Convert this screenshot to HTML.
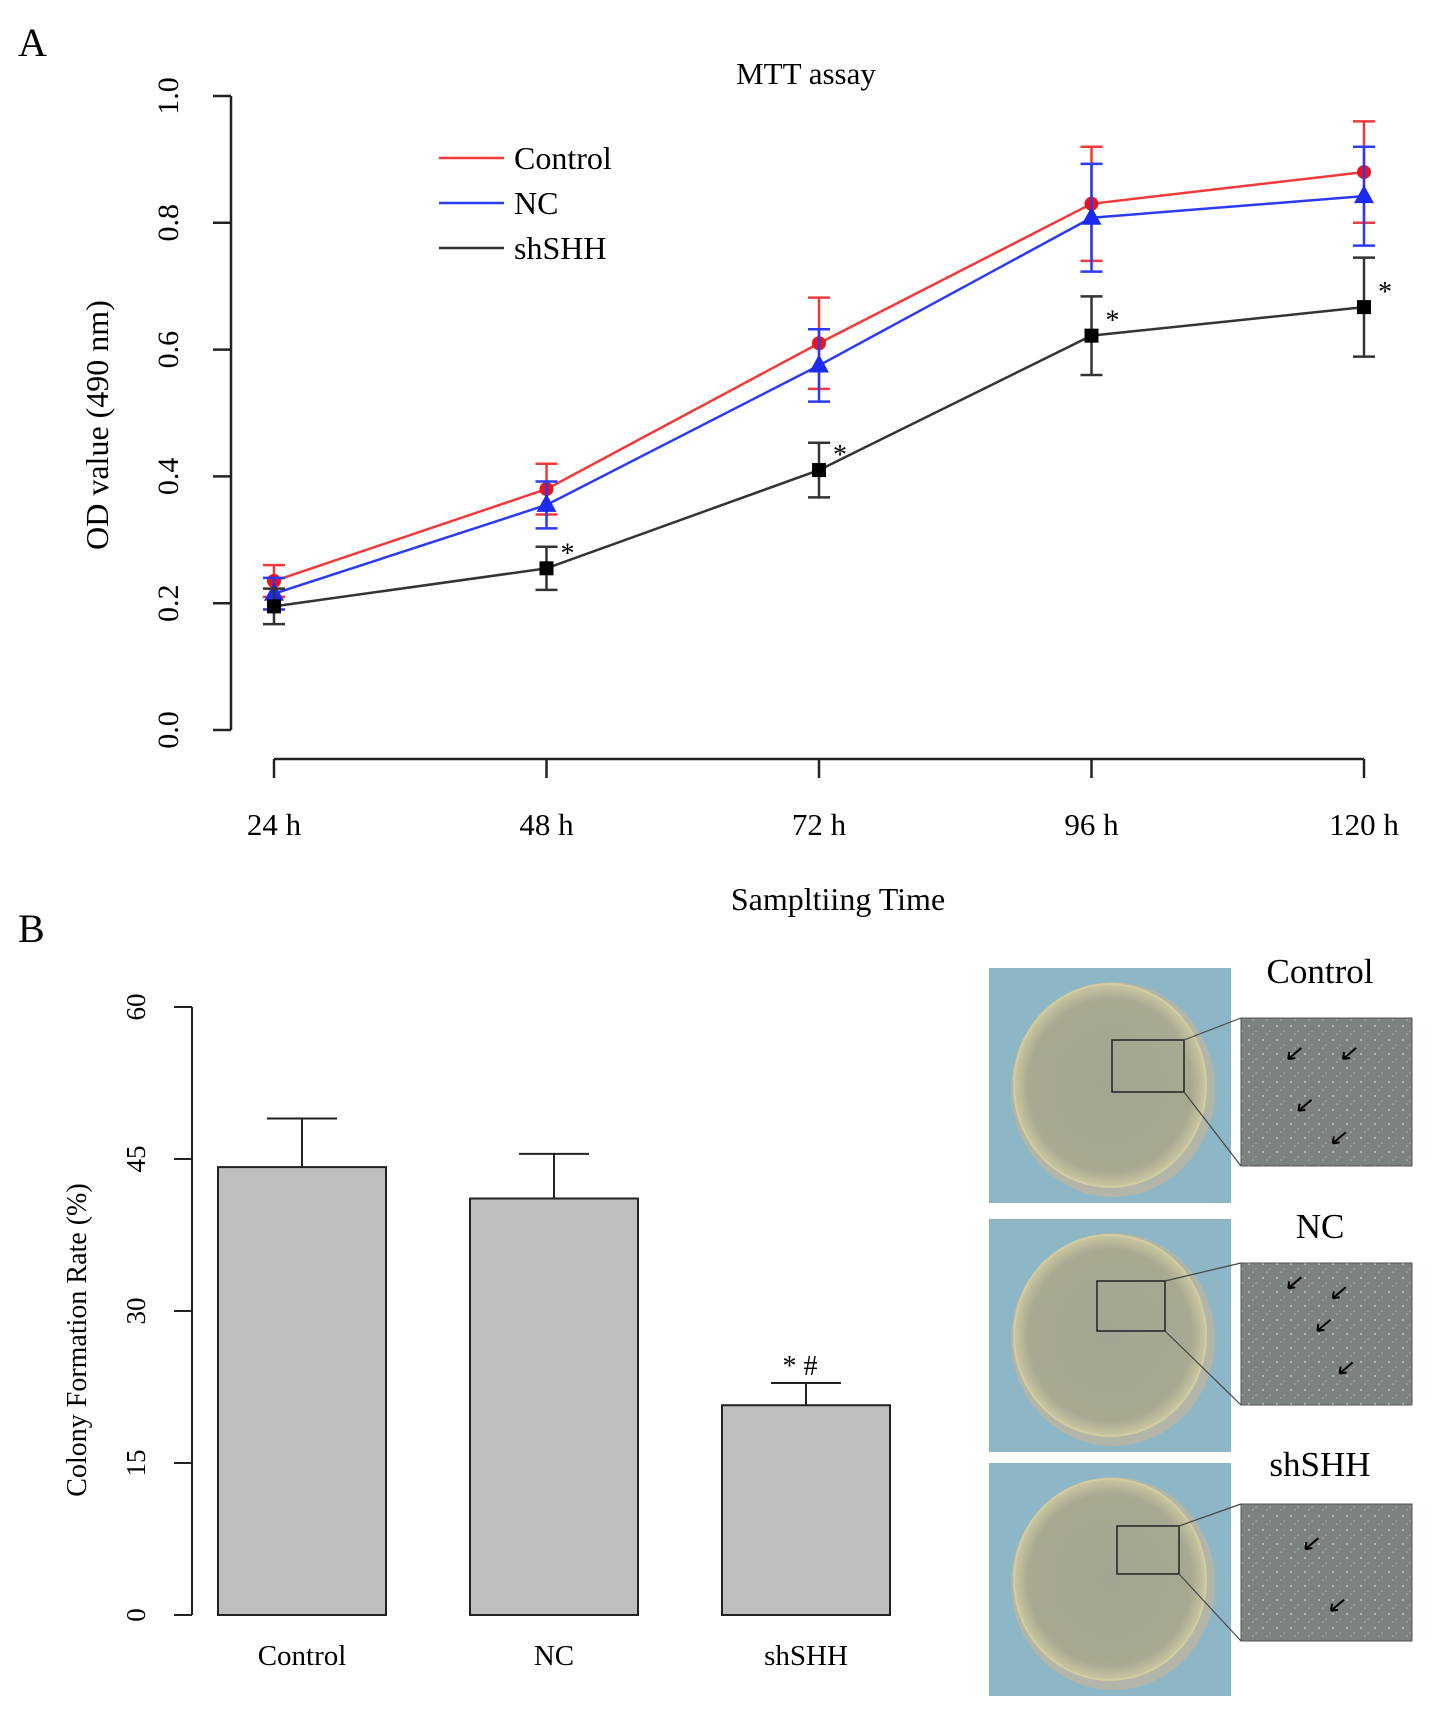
<!DOCTYPE html>
<html><head><meta charset="utf-8"><style>
html,body{margin:0;padding:0;background:#fff;}
svg{display:block;font-family:"Liberation Serif",serif;}
</style></head><body>
<svg id="fig" width="1442" height="1717" viewBox="0 0 1442 1717">
<defs>
<radialGradient id="dishg" cx="50%" cy="50%" r="50%"><stop offset="0" stop-color="#a3a493"/><stop offset="0.85" stop-color="#a9a891"/><stop offset="1" stop-color="#c9c6a0"/></radialGradient>
<pattern id="spk" width="14" height="14" patternUnits="userSpaceOnUse"><rect width="14" height="14" fill="#7c827f"/><circle cx="3" cy="4" r="1" fill="#c5cac6"/><circle cx="10" cy="9" r="0.8" fill="#b0b6b2"/><circle cx="7" cy="12" r="0.6" fill="#d4d8d4"/></pattern>
</defs>
<g id="panelA"></g>
<g id="panelB"></g>
<g id="photos"></g>
</svg>
<script>
const times=["24 h","48 h","72 h","96 h","120 h"];
const controlVals=[0.235,0.38,0.61,0.83,0.88];
const controlErr=[0.025,0.04,0.072,0.09,0.08];
const ncVals=[0.215,0.355,0.575,0.808,0.842];
const ncErr=[0.025,0.037,0.057,0.085,0.078];
const shVals=[0.195,0.255,0.41,0.622,0.667];
const shErr=[0.028,0.034,0.043,0.062,0.078];
const yTicksA=[0,0.2,0.4,0.6,0.8,1.0];
const barCats=["Control","NC","shSHH"];
const barVals=[44.2,41.1,20.7];
const barErr=[4.8,4.4,2.2];
const yTicksB=[0,15,30,45,60];

const NS="http://www.w3.org/2000/svg";
function mk(parent,tag,attrs,text){const e=document.createElementNS(NS,tag);for(const k in attrs)e.setAttribute(k,attrs[k]);if(text!==undefined)e.textContent=text;parent.appendChild(e);return e;}

// Panel A
const A=document.getElementById('panelA');
const ax=i=>274+i*(1364-274)/(times.length-1);
const ay=v=>730-v*(730-96);
let t;
t=mk(A,'text',{x:18,y:56,'font-size':40});t.textContent='A';

t=mk(A,'text',{x:806,y:84,'font-size':31,'text-anchor':'middle'},'MTT assay');

let l=mk(A,'line',{x1:231,y1:ay(0),x2:231,y2:ay(1),stroke:'#222','stroke-width':2.5});

yTicksA.forEach(v=>{
 const tk=mk(A,'line',{x1:213,y1:ay(v),x2:231,y2:ay(v),stroke:'#222','stroke-width':2.5});
 
 const lb=mk(A,'text',{x:0,y:0,'font-size':30,'text-anchor':'middle',transform:`translate(178,${ay(v)}) rotate(-90)`},v.toFixed(1));
 
});
t=mk(A,'text',{x:0,y:0,'font-size':32,'text-anchor':'middle',transform:'translate(108,425) rotate(-90)'},'OD value (490 nm)');

l=mk(A,'line',{x1:ax(0),y1:759,x2:ax(4),y2:759,stroke:'#222','stroke-width':2.5});

times.forEach((s,i)=>{
 const tk=mk(A,'line',{x1:ax(i),y1:759,x2:ax(i),y2:778,stroke:'#222','stroke-width':2.5});
 
 const lb=mk(A,'text',{x:ax(i),y:835,'font-size':31,'text-anchor':'middle'},s);
 
});
t=mk(A,'text',{x:838,y:910,'font-size':32,'text-anchor':'middle'},'Sampltiing Time');


function series(vals,errs,color,marker,name){
 const g=mk(A,'g',{});
 
 const pts=vals.map((v,i)=>ax(i)+','+ay(v)).join(' ');
 const pl=mk(g,'polyline',{points:pts,fill:'none',stroke:color,'stroke-width':2.5});
 
 vals.forEach((v,i)=>{
  const x=ax(i);
  const eb=mk(g,'path',{d:`M${x},${ay(v-errs[i])}V${ay(v+errs[i])}M${x-11},${ay(v-errs[i])}h22M${x-11},${ay(v+errs[i])}h22`,stroke:color,'stroke-width':2.5,fill:'none'});
  
  let m;
  if(marker==='circle') m=mk(g,'circle',{cx:x,cy:ay(v),r:7,fill:'#e8141e'});
  else if(marker==='tri') m=mk(g,'path',{d:`M${x},${ay(v)-11}L${x+10},${ay(v)+7}L${x-10},${ay(v)+7}Z`,fill:'#1b2cf0'});
  else m=mk(g,'rect',{x:x-7,y:ay(v)-7,width:14,height:14,fill:'#000'});
  
  if(name==='shshh'&&i>0){
   const st=mk(g,'text',{x:x+14,y:ay(v)+(i==1?-6:-6),'font-size':28},'*');
   
  }
 });
}
series(controlVals,controlErr,'#f23a3a','circle','control');
series(ncVals,ncErr,'#2a3af5','tri','nc');
series(shVals,shErr,'#333','sq','shshh');

const leg=[['Control','#f23a3a'],['NC','#2a3af5'],['shSHH','#333']];
leg.forEach((d,i)=>{
 const g=mk(A,'g',{});
 
 mk(g,'line',{x1:439,y1:158+i*45,x2:504,y2:158+i*45,stroke:d[1],'stroke-width':2.5});
 mk(g,'text',{x:514,y:169+i*45,'font-size':32},d[0]);
});

// Panel B
const B=document.getElementById('panelB');
const by=v=>1615-v*(1615-1007)/60;
const bx=[218,470,722], bw=168;
t=mk(B,'text',{x:18,y:942,'font-size':40},'B');

l=mk(B,'line',{x1:192,y1:by(0),x2:192,y2:by(60),stroke:'#222','stroke-width':2});

yTicksB.forEach(v=>{
 const tk=mk(B,'line',{x1:174,y1:by(v),x2:192,y2:by(v),stroke:'#222','stroke-width':2});
 
 const lb=mk(B,'text',{x:0,y:0,'font-size':27,'text-anchor':'middle',transform:`translate(145,${by(v)}) rotate(-90)`},String(v));
 
});
t=mk(B,'text',{x:0,y:0,'font-size':28,'text-anchor':'middle',transform:'translate(86,1340) rotate(-90)'},'Colony Formation  Rate (%)');

barCats.forEach((c,i)=>{
 const x=bx[i], cx=x+bw/2;
 const eb=mk(B,'path',{d:`M${cx},${by(barVals[i])}V${by(barVals[i]+barErr[i])}M${cx-35},${by(barVals[i]+barErr[i])}h70`,stroke:'#222','stroke-width':2,fill:'none'});
 
 const r=mk(B,'rect',{x:x,y:by(barVals[i]),width:bw,height:by(0)-by(barVals[i]),fill:'#bebebe',stroke:'#222','stroke-width':2});
 
 const lb=mk(B,'text',{x:cx,y:1665,'font-size':29,'text-anchor':'middle'},c);
 
 if(i===2){const s=mk(B,'text',{x:cx-6,y:by(barVals[i]+barErr[i])-8,'font-size':28,'text-anchor':'middle'},'* #');
  }
});

// Photos
const P=document.getElementById('photos');
const rows=[[968,1203,1018,1166,983,'Control',[[0.3,0.25],[0.62,0.25],[0.36,0.6],[0.56,0.82]],[1112,1040,72,52]],
 [1219,1452,1263,1405,1238,'NC',[[0.3,0.15],[0.56,0.22],[0.47,0.45],[0.6,0.75]],[1097,1281,68,50]],
 [1463,1696,1504,1641,1476,'shSHH',[[0.4,0.3],[0.55,0.75]],[1117,1526,62,48]]];
rows.forEach(r=>{
 const g=mk(P,'g',{});
 
 mk(g,'rect',{x:989,y:r[0],width:242,height:r[1]-r[0],fill:'#8db7c6'});
 const cy=(r[0]+r[1])/2;
 mk(g,'ellipse',{cx:1113,cy:cy+4,rx:102,ry:(r[1]-r[0])/2-10,fill:'#b3b5a8'});
 mk(g,'ellipse',{cx:1110,cy:cy,rx:96,ry:(r[1]-r[0])/2-16,fill:'url(#dishg)',stroke:'#d2cda0','stroke-width':2});
 const b=r[7];
 mk(g,'rect',{x:b[0],y:b[1],width:b[2],height:b[3],fill:'none',stroke:'#222','stroke-width':1.5});
 mk(g,'line',{x1:b[0]+b[2],y1:b[1],x2:1241,y2:r[2],stroke:'#444','stroke-width':1.2});
 mk(g,'line',{x1:b[0]+b[2],y1:b[1]+b[3],x2:1241,y2:r[3],stroke:'#444','stroke-width':1.2});
 mk(g,'rect',{x:1241,y:r[2],width:171,height:r[3]-r[2],fill:'url(#spk)',stroke:'#555','stroke-width':1});
 r[6].forEach(a=>{const x=1241+a[0]*171,y=r[2]+a[1]*(r[3]-r[2]);
  mk(g,'path',{d:`M${x+9},${y-7}L${x-4},${y+4}M${x-4},${y+4}l1,-7M${x-4},${y+4}l7,-1`,stroke:'#000','stroke-width':2,fill:'none'});});
 const lb=mk(P,'text',{x:1320,y:r[4],'font-size':35,'text-anchor':'middle'},r[5]);
 
});
</script>
</body></html>
